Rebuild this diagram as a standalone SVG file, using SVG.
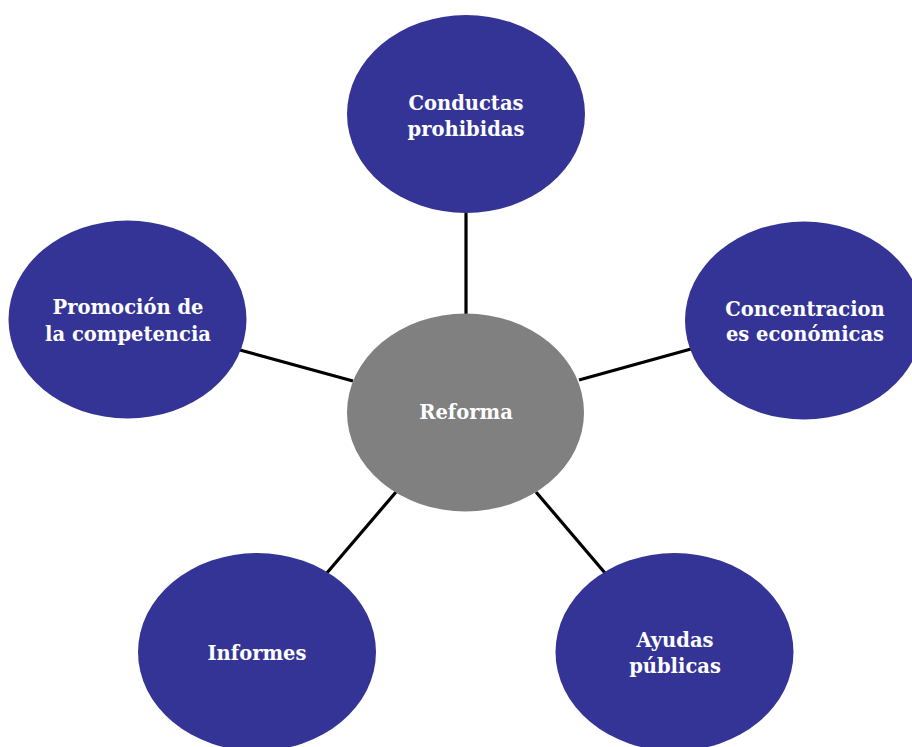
<svg xmlns="http://www.w3.org/2000/svg" width="912" height="747" viewBox="0 0 912 747">
<style>
.n{fill:#343497}
.c{fill:#808080}
.t{font-family:"DejaVu Serif","Liberation Serif",serif;font-weight:bold;font-size:19.5px;fill:#FFFFFF;text-anchor:middle}
.l{stroke:#000;stroke-width:3.2;fill:none}
</style>
<rect width="912" height="747" fill="#FFFFFF"/>
<g id="connectors">
<line class="l" x1="466" y1="213" x2="466" y2="314"/>
<line class="l" x1="240" y1="350" x2="353" y2="381"/>
<line class="l" x1="579" y1="380" x2="691" y2="349"/>
<line class="l" x1="396" y1="492" x2="326" y2="574"/>
<line class="l" x1="536" y1="492" x2="605" y2="573"/>
</g>
<g id="reforma">
<ellipse class="c" cx="465.5" cy="412.5" rx="118.5" ry="99"/>
<text class="t" x="466" y="419">Reforma</text>
</g>
<g id="conductas">
<ellipse class="n" cx="466" cy="114" rx="119" ry="99"/>
<text class="t" x="466" y="110">Conductas</text>
<text class="t" x="466" y="136">prohibidas</text>
</g>
<g id="concentraciones">
<ellipse class="n" cx="804" cy="320.5" rx="119" ry="99"/>
<text class="t" x="805" y="316">Concentracion</text>
<text class="t" x="805" y="341">es económicas</text>
</g>
<g id="promocion">
<ellipse class="n" cx="127.5" cy="319.5" rx="119" ry="99"/>
<text class="t" x="128" y="314">Promoción de</text>
<text class="t" x="128" y="341">la competencia</text>
</g>
<g id="informes">
<ellipse class="n" cx="257" cy="652" rx="119" ry="99"/>
<text class="t" x="257" y="660">Informes</text>
</g>
<g id="ayudas">
<ellipse class="n" cx="674.5" cy="652" rx="119" ry="99"/>
<text class="t" x="675" y="647">Ayudas</text>
<text class="t" x="675" y="673">públicas</text>
</g>
</svg>
